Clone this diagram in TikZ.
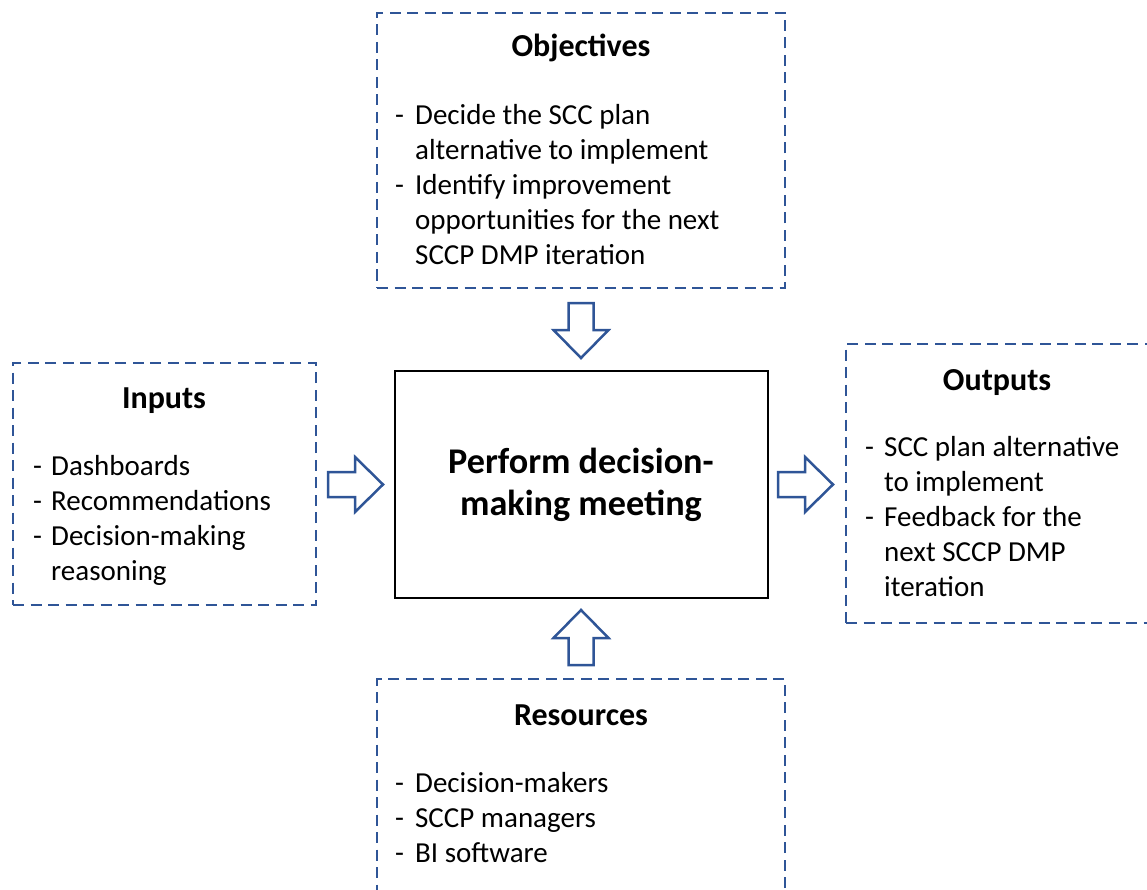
\documentclass[tikz,border=0pt]{standalone}
\usepackage{fontspec}
\setmainfont{Carlito}
\definecolor{dblue}{RGB}{47,85,151}
\tikzset{
  dbox/.style={draw=dblue, line width=2.8pt, dash pattern=on 11pt off 6.5pt, inner sep=0pt},
  mainbox/.style={draw=black, line width=2.2pt, inner sep=0pt},
  arrowline/.style={draw=dblue, line width=2.5pt, fill=white, line join=miter},
  blockarrow/.pic={\path[arrowline] (0,-12.5) -- (27,-12.5) -- (27,-27.5) -- (55,0) -- (27,27.5) -- (27,12.5) -- (0,12.5) -- cycle;},
  body/.style={inner sep=0pt, anchor=base west, font=\fontsize{29}{35}\selectfont},
  head/.style={inner sep=0pt, anchor=base, font=\fontsize{32}{35}\selectfont\bfseries},
  ctext/.style={inner sep=0pt, anchor=base, font=\fontsize{36.2}{42}\selectfont\bfseries}
}
\begin{document}
\begin{tikzpicture}[x=1pt, y=-1pt]
\useasboundingbox (0,0) rectangle (1147,890);
\clip (0,0) rectangle (1147,890);
% boxes
\node[dbox, minimum width=408pt, minimum height=275pt] (obj) at (581,150.5) {};
\node[dbox, minimum width=303pt, minimum height=242pt] (inp) at (164.5,484) {};
\node[mainbox, minimum width=373pt, minimum height=227pt] (ctr) at (581.5,484.5) {};
\node[dbox, minimum width=304pt, minimum height=279pt] (out) at (998,483.5) {};
\node[dbox, minimum width=408pt, minimum height=221pt] (res) at (581,789.5) {};
% titles
\node[head] (objt) at (581,57) {Objectives};
\node[head] (inpt) at (164,408) {Inputs};
\node[head] (outt) at (997,390) {Outputs};
\node[head] (rest) at (581,725) {Resources};
% bodies
\node[body] (objb) at (395,125) {\begin{tabular}[t]{@{}p{20pt}@{}l@{}}
- & Decide the SCC plan\\
  & alternative to implement\\
- & Identify improvement\\
  & opportunities for the next\\
  & SCCP DMP iteration
\end{tabular}};
\node[body] (inpb) at (33,475) {\begin{tabular}[t]{@{}p{18pt}@{}l@{}}
- & Dashboards\\
- & Recommendations\\
- & Decision-making\\
  & reasoning
\end{tabular}};
\node[body] (outb) at (865,456) {\begin{tabular}[t]{@{}p{19pt}@{}l@{}}
- & SCC plan alternative\\
  & to implement\\
- & Feedback for the\\
  & next SCCP DMP\\
  & iteration
\end{tabular}};
\node[body] (resb) at (395,792) {\begin{tabular}[t]{@{}p{20pt}@{}l@{}}
- & Decision-makers\\
- & SCCP managers\\
- & BI software
\end{tabular}};
\node[ctext] (ctrt) at (581,473) {\begin{tabular}[t]{@{}c@{}}Perform decision-\\making meeting\end{tabular}};
% block arrows
\pic[rotate=-90] at (581,303) {blockarrow};
\pic at (328,484.5) {blockarrow};
\pic at (778,484.5) {blockarrow};
\pic[rotate=90] at (581,665) {blockarrow};
\end{tikzpicture}
\end{document}
